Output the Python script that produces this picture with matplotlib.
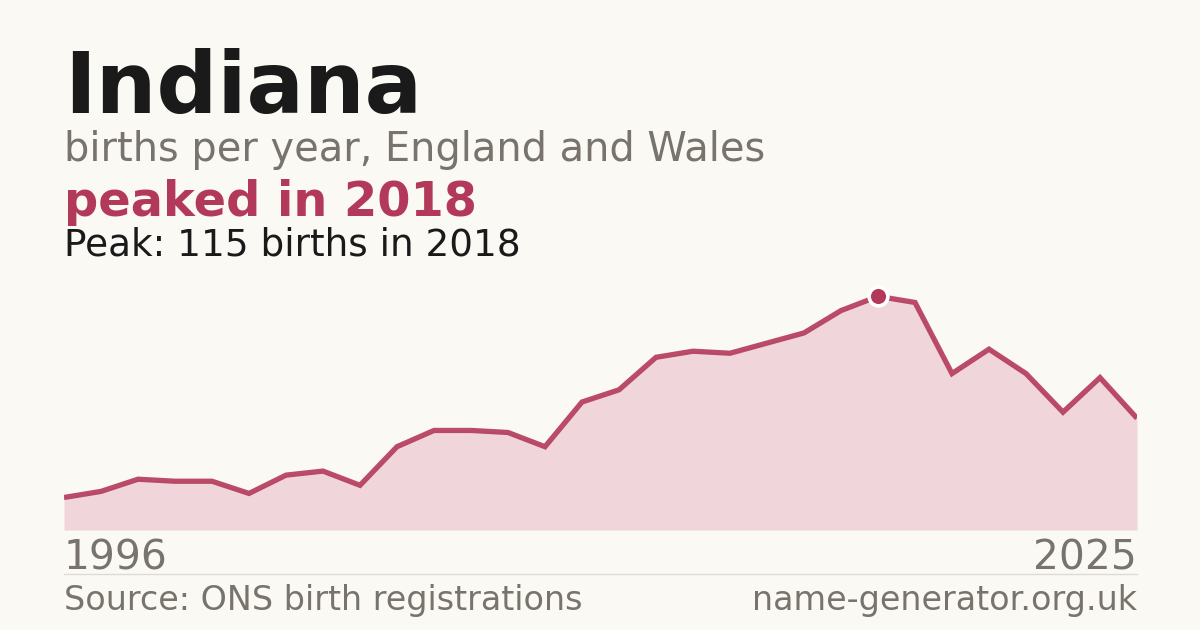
import matplotlib
matplotlib.use("Agg")
import matplotlib.pyplot as plt

# births per year
years = list(range(1996, 2026))
births = [16, 19, 25, 24, 24, 18, 27, 29, 22, 41,
          49, 49, 48, 41, 63, 69, 85, 88, 87, 92,
          97, 108, 115, 112, 77, 89, 77, 58, 75, 55]

name = "Indiana"
subtitle = "births per year, England and Wales"
headline = "peaked in 2018"
source = "Source: ONS birth registrations"
site = "name-generator.org.uk"

BG = "#faf9f4"
ACCENT = "#b3395a"
FILL = "#f0d5da"
GREY = "#78736c"
DARK = "#1a1a1a"

plt.rcParams["font.family"] = ["DejaVu Sans"]

W, H = 1200, 630
fig = plt.figure(figsize=(W / 100, H / 100), dpi=100)
fig.patch.set_facecolor(BG)


def px(x, y):
    return x / W, 1 - y / H


# chart area: x 64..1137 px, y 280..530 px
ax = fig.add_axes([64 / W, 100 / H, 1073 / W, 250 / H])
ax.set_facecolor(BG)
peak = max(births)
peak_year = years[births.index(peak)]
ax.fill_between(years, births, 0, color=FILL, linewidth=0, zorder=1)
ax.plot(years, births, color=ACCENT, linewidth=3.8, alpha=0.9,
        solid_capstyle="butt", solid_joinstyle="miter", zorder=2)
ax.plot([peak_year], [peak], marker="o", markersize=13.5, color=ACCENT,
        markeredgecolor="white", markeredgewidth=2.6, zorder=3)
ax.set_xlim(years[0], years[-1])
ax.set_ylim(0, peak * 1.07)
ax.axis("off")

# headings
fig.text(*px(64, 113), name, fontsize=61.3, fontweight="bold", color=DARK, va="baseline")
fig.text(*px(64, 161), subtitle, fontsize=28.7, color=GREY, va="baseline")
fig.text(*px(64, 216), headline, fontsize=34.5, fontweight="bold", color=ACCENT, va="baseline")
fig.text(*px(64, 255), f"Peak: {peak} births in {peak_year}", fontsize=26.9,
         color=DARK, va="baseline")

# year labels
fig.text(*px(64, 569), str(years[0]), fontsize=29.3, color=GREY, va="baseline")
fig.text(*px(1137, 569), str(years[-1]), fontsize=29.3, color=GREY, va="baseline", ha="right")

# separator + footer
fig.add_artist(plt.Line2D([64 / W, 1137 / W], [1 - 574 / H, 1 - 574 / H],
                          color="#dedbd3", linewidth=1))
fig.text(*px(64, 610), source, fontsize=24, color=GREY, va="baseline")
fig.text(*px(1137, 610), site, fontsize=24, color=GREY, va="baseline", ha="right")

fig.savefig("out.png", dpi=100, facecolor=BG)
